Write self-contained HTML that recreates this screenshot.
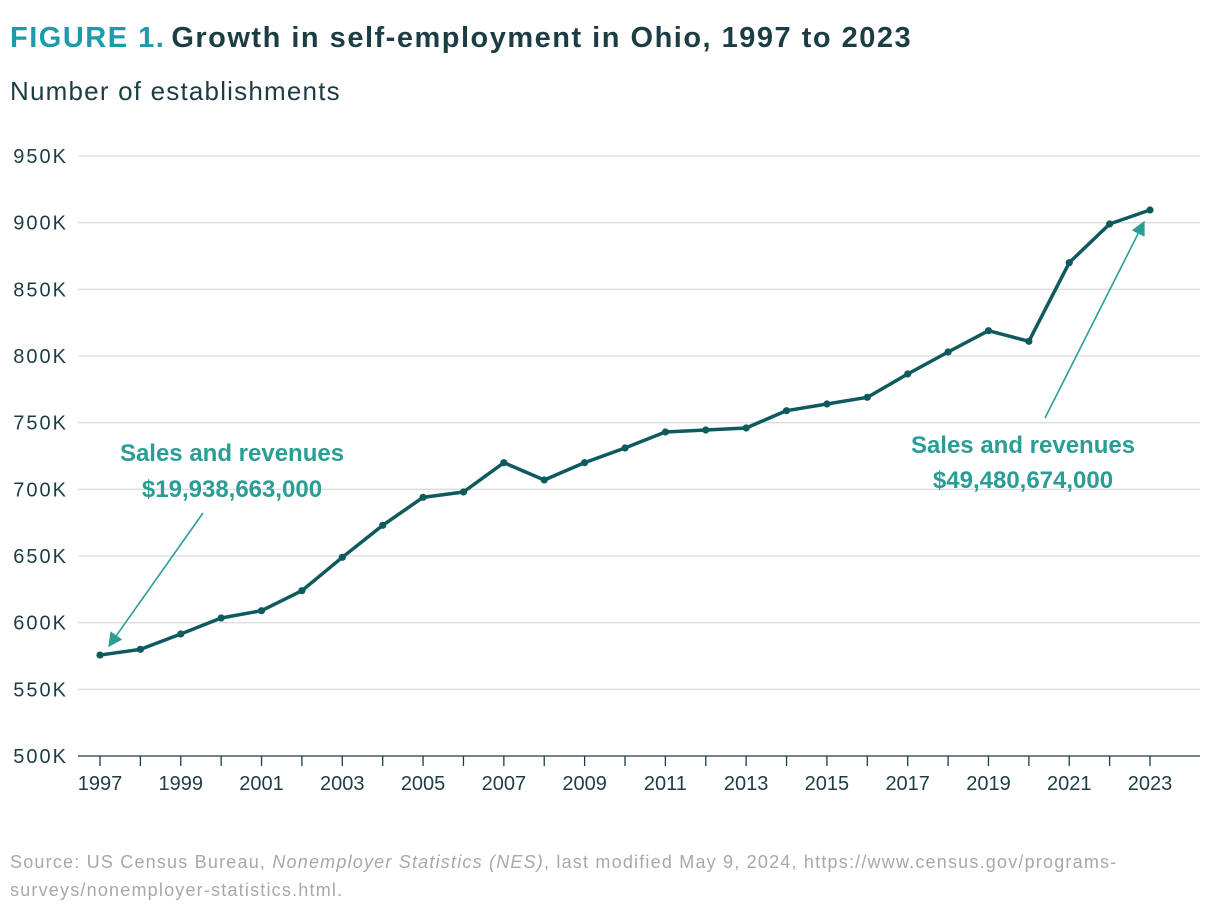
<!DOCTYPE html>
<html><head><meta charset="utf-8"><style>
body{margin:0;background:#fff;font-family:"Liberation Sans",sans-serif;}
svg text{font-family:"Liberation Sans",sans-serif;}
</style></head><body>
<svg id="chart" width="1220" height="914" xmlns="http://www.w3.org/2000/svg">
<text x="10" y="47" font-size="29" font-weight="bold" letter-spacing="1.5"><tspan fill="#1b9bab">FIGURE 1.</tspan><tspan fill="#1d3d45" dx="6">Growth in self-employment in Ohio, 1997 to 2023</tspan></text>
<text x="10" y="100" font-size="26" letter-spacing="1.2" fill="#1d3d45">Number of establishments</text>
<g id="grid"></g><g id="yt"></g><g id="xt"></g><g id="series"></g>
<defs><marker id="ah" viewBox="0 0 10 10" refX="9" refY="5" markerWidth="9" markerHeight="9" orient="auto"><path d="M0,0L10,5L0,10z" fill="#2a9d95"/></marker></defs>
<g fill="#2a9d95" font-size="24" font-weight="bold" text-anchor="middle">
<text x="232" y="461">Sales and revenues</text><text x="232" y="497">$19,938,663,000</text>
<line x1="203" y1="513" x2="109" y2="646" stroke="#2a9d95" stroke-width="1.6" marker-end="url(#ah)"/></g>
<g fill="#2a9d95" font-size="24" font-weight="bold" text-anchor="middle">
<text x="1023" y="453">Sales and revenues</text><text x="1023" y="488">$49,480,674,000</text>
<line x1="1045" y1="418" x2="1144" y2="222" stroke="#2a9d95" stroke-width="1.6" marker-end="url(#ah)"/></g>
<text x="10" y="868" font-size="18" letter-spacing="1.2" fill="#a8a8a8">Source: US Census Bureau, <tspan font-style="italic">Nonemployer Statistics (NES)</tspan>, last modified May 9, 2024, https://www.census.gov/programs-</text>
<text x="10" y="896" font-size="18" letter-spacing="1.2" fill="#a8a8a8">surveys/nonemployer-statistics.html.</text>
</svg>
<script>
const years=[1997,1998,1999,2000,2001,2002,2003,2004,2005,2006,2007,2008,2009,2010,2011,2012,2013,2014,2015,2016,2017,2018,2019,2020,2021,2022,2023];
const values=[575.7,580,591.5,603.5,609,624,649,673,694,698,720,707,720,731,743,744.5,746,759,764,769,786.5,803,819,811,870,899,909.5];
const yTicks=[500,550,600,650,700,750,800,850,900,950];
const xLabels=[1997,1999,2001,2003,2005,2007,2009,2011,2013,2015,2017,2019,2021,2023];
const NS="http://www.w3.org/2000/svg";
const x=v=>100+(v-1997)*(1050/26);
const y=v=>756-(v-500)*(600/450);
function mk(t,a,p,txt){const e=document.createElementNS(NS,t);for(const k in a)e.setAttribute(k,a[k]);if(txt!=null)e.textContent=txt;document.getElementById(p).appendChild(e);return e;}
yTicks.forEach(v=>{
 if(v>500){const g=mk('line',{x1:78,x2:1200,y1:y(v),y2:y(v),stroke:'#dcdcdc','stroke-width':1.3},'grid');
 
 }
 const t=mk('text',{x:68,y:y(v)+7,'font-size':20,'letter-spacing':2,fill:'#1d3d45','text-anchor':'end'},'yt',v+'K');
 
 
});
const ax=mk('line',{x1:78,x2:1200,y1:756,y2:756,stroke:'#1d3d45','stroke-width':1.3},'grid');


years.forEach(v=>{const t=mk('line',{x1:x(v),x2:x(v),y1:756,y2:766,stroke:'#1d3d45','stroke-width':1.3},'xt');
 
 });
xLabels.forEach(v=>{const t=mk('text',{x:x(v),y:790,'font-size':20,fill:'#1d3d45','text-anchor':'middle'},'xt',v);
 
 });
const line=mk('polyline',{points:years.map((yr,i)=>x(yr)+','+y(values[i])).join(' '),fill:'none',stroke:'#0f5a5c','stroke-width':3.5,'stroke-linejoin':'round'},'series');


years.forEach((yr,i)=>{const c=mk('circle',{cx:x(yr),cy:y(values[i]),r:3.6,fill:'#0f5a5c'},'series');
 
 });
</script>
</body></html>
